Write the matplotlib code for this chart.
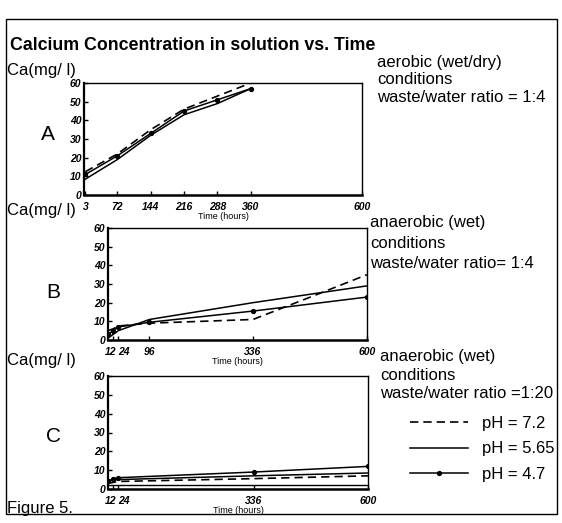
import matplotlib
matplotlib.use("Agg")
import matplotlib.pyplot as plt
import matplotlib.transforms as mtransforms
from matplotlib.patches import Rectangle

plt.rcParams['font.family'] = ['Liberation Sans', 'DejaVu Sans']

# panel A - aerobic, 1:4
a_t72 = [3, 72, 144, 216, 288, 360]
a_ph72 = [12.5, 22, 35, 46, 53, 60]
a_ph565 = [8.5, 19, 32, 43, 49, 57]
a_ph47 = [11, 21, 33, 45, 51, 57]
a_ticks = [3, 72, 144, 216, 288, 360, 600]

# panel B - anaerobic, 1:4
b_t72 = [0, 12, 24, 96, 336, 480, 600]
b_ph72 = [5, 6, 7.5, 9, 11, 24, 35]
b_t565 = [0, 24, 96, 336, 600]
b_ph565 = [1, 5, 11, 20, 29]
b_t47 = [0, 12, 24, 96, 336, 600]
b_ph47 = [3, 5, 7, 9.5, 15.5, 23]
b_ticks = [12, 24, 96, 336, 600]

# panel C - anaerobic, 1:20
c_t72 = [0, 12, 24, 336, 600]
c_ph72 = [3, 3.5, 4, 5.5, 7]
c_t565 = [0, 24, 336, 600]
c_ph565 = [4.5, 5, 7, 8.5]
c_t47 = [0, 12, 24, 336, 600]
c_ph47 = [4, 5.5, 6, 9, 12]
c_tlow = [0, 600]
c_low = [2, 2]
c_ticks = [12, 24, 336, 600]

yticks = [0, 10, 20, 30, 40, 50, 60]

fig = plt.figure(figsize=(5.62, 5.23), dpi=100)
W, H = 562, 523

def px(l, t, r, b):
    return [l / W, 1 - b / H, (r - l) / W, (b - t) / H]

ax_a = fig.add_axes(px(84, 83, 362, 195))
ax_b = fig.add_axes(px(108, 228, 367, 340))
ax_c = fig.add_axes(px(108, 376, 368, 489))

dash = dict(color='black', lw=1.2, ls=(0, (5, 3)))
solid = dict(color='black', lw=1.1)
dotl = dict(color='black', lw=1.1, marker='o', ms=2.8)

ax_a.plot(a_t72, a_ph72, **dash)
ax_a.plot(a_t72, a_ph565, **solid)
ax_a.plot(a_t72, a_ph47, **dotl)

ax_b.plot(b_t72, b_ph72, **dash)
ax_b.plot(b_t565, b_ph565, **solid)
ax_b.plot(b_t47, b_ph47, **dotl)

l1, = ax_c.plot(c_t72, c_ph72, **dash)
l2, = ax_c.plot(c_t565, c_ph565, **solid)
l3, = ax_c.plot(c_t47, c_ph47, **dotl)
ax_c.plot(c_tlow, c_low, color='black', lw=1.0)

tick_font = dict(fontsize=7.5, fontstyle='italic', fontweight='bold')
for ax, ticks in [(ax_a, a_ticks), (ax_b, b_ticks), (ax_c, c_ticks)]:
    ax.set_xlim(0, 600)
    ax.set_ylim(0, 60)
    ax.set_xticks(ticks)
    ax.set_xticklabels([str(t) for t in ticks], **tick_font)
    ax.set_yticks(yticks)
    ax.set_yticklabels([str(t) for t in yticks], **tick_font)
    ax.tick_params(direction='in', length=3, width=1, pad=2)
    ax.tick_params(axis='x', pad=5)
    for s in ax.spines.values():
        s.set_linewidth(1.0)
    ax.spines['bottom'].set_linewidth(1.8)
    ax.spines['left'].set_linewidth(1.6)
    ax.set_xlabel('Time (hours)', fontsize=6.5, labelpad=0)
    # spread the crowded 12 / 24 labels apart
    if 12 in ticks:
        labs = ax.get_xticklabels()
        for lab, dx in zip(labs[:2], [-3, 6]):
            lab.set_transform(lab.get_transform() +
                              mtransforms.ScaledTranslation(dx / 100, 0, fig.dpi_scale_trans))

fig.text(10 / W, 1 - 46 / H, 'Calcium Concentration in solution vs. Time',
         fontsize=12.8, fontweight='bold', va='center', ha='left')

for y in [71, 210, 361]:
    fig.text(7 / W, 1 - y / H, 'Ca(mg/ l)', fontsize=12, va='center', ha='left')

for lab, x, y in [('A', 41, 135), ('B', 46, 292), ('C', 46, 436)]:
    fig.text(x / W, 1 - y / H, lab, fontsize=15, va='center', ha='left')

side = [
    (377, [62, 80, 98], ['aerobic (wet/dry)', 'conditions', 'waste/water ratio = 1:4']),
    (370, [222, 243, 263], ['anaerobic (wet)', 'conditions', 'waste/water ratio= 1:4']),
    (380, [357, 376, 394], ['anaerobic (wet)', 'conditions', 'waste/water ratio =1:20']),
]
for x, ys, lines in side:
    for y, t in zip(ys, lines):
        fig.text(x / W, 1 - y / H, t, fontsize=12, va='center', ha='left')

fig.legend([l1, l2, l3], ['pH = 7.2', 'pH = 5.65', 'pH = 4.7'],
           loc='upper left', bbox_to_anchor=(410 / W, 1 - 416 / H),
           frameon=False, fontsize=12, handlelength=3.5, handletextpad=0.8,
           labelspacing=0.62, numpoints=1, borderpad=0, borderaxespad=0)

fig.text(7 / W, 1 - 509 / H, 'Figure 5.', fontsize=12, va='center', ha='left')

fig.add_artist(Rectangle((6 / W, 1 - 514 / H), (557 - 6) / W, (514 - 19) / H,
                         transform=fig.transFigure, fill=False, lw=1.0, color='black'))

fig.savefig('out.png', dpi=100)
